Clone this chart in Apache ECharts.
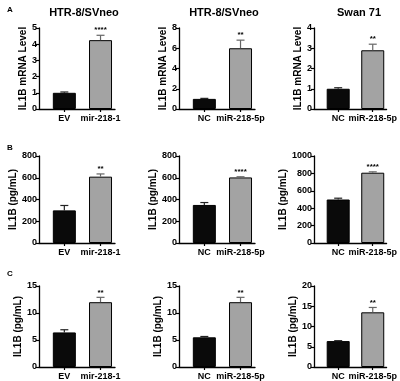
<!DOCTYPE html>
<html>
<head>
<meta charset="utf-8">
<script src="https://cdn.jsdelivr.net/npm/echarts@6/dist/echarts.min.js"></script>
<style>
html, body { margin: 0; padding: 0; background: #fff; }
#chart { width: 400px; height: 381px; }
</style>
</head>
<body>
<div id="chart"></div>
<script>
// panel order: A1 A2 A3, B1 B2 B3, C1 C2 C3
const panelTitles = ["HTR-8/SVneo", "HTR-8/SVneo", "Swan 71"]
const rowLetters = ["A", "B", "C"]
const catsEV = ["EV", "mir-218-1"]
const catsNC = ["NC", "miR-218-5p"]
const yNames = ["IL1B mRNA Level", "IL1B (pg/mL)", "IL1B (pg/mL)"]

const means = [
	[1.0, 4.25], [1.0, 6.0], [1.0, 2.9],
	[300, 610], [350, 603], [500, 808],
	[6.4, 12.0], [5.5, 12.0], [6.4, 13.5]
]
const errors = [
	[0.05, 0.3], [0.05, 0.8], [0.05, 0.3],
	[45, 25], [22, 6], [15, 10],
	[0.5, 0.9], [0.15, 0.9], [0.1, 1.2]
]
const stars = ["****", "**", "**", "**", "****", "****", "**", "**", "**"]
const yMax = [5, 8, 4, 800, 800, 1000, 15, 15, 20]
const yStep = [1, 2, 1, 200, 200, 200, 5, 5, 5]

const chart = echarts.init(document.getElementById("chart"))

const FONT = "Liberation Sans"
const colLeft = [39, 179, 314]
const colWidth = [76, 76, 76]
const rowTop = [28, 156, 286]
const rowHeight = [81, 87, 81]
const nameGaps = [4, 8, 5, 17, 20, 15, 8, 15, 14]

const grids = []
const xAxes = []
const yAxes = []
const series = []
const titles = []

for (let i = 0; i < 9; i++) {
	const r = Math.floor(i / 3)
	const c = i % 3
	const cats = c === 0 ? catsEV : catsNC
	grids.push({ left: colLeft[c], top: rowTop[r], width: colWidth[c], height: rowHeight[r] })
	xAxes.push({
		gridIndex: i,
		type: "value",
		min: 0.3,
		max: 2.4,
		axisLine: { show: true, onZero: false, lineStyle: { color: "#000", width: 1.3 } },
		axisTick: { show: true, customValues: [1, 2], length: 3, lineStyle: { color: "#000", width: 1.2 } },
		axisLabel: {
			customValues: [1, 2],
			formatter: v => cats[Math.round(v) - 1],
			color: "#000", fontFamily: FONT, fontWeight: "bold", fontSize: 9, margin: 5
		},
		splitLine: { show: false }
	})
	yAxes.push({
		gridIndex: i,
		type: "value",
		min: 0,
		max: yMax[i],
		interval: yStep[i],
		name: yNames[r],
		nameLocation: "middle",
		nameGap: nameGaps[i],
		nameTextStyle: { color: "#000", fontFamily: FONT, fontWeight: "bold", fontSize: 10 },
		axisLine: { show: true, lineStyle: { color: "#000", width: 1.3 } },
		axisTick: { show: true, length: 3, lineStyle: { color: "#000", width: 1.2 } },
		axisLabel: {
			formatter: v => String(v),
			color: "#000", fontFamily: FONT, fontWeight: "bold", fontSize: 9, margin: 2
		},
		splitLine: { show: false }
	})
	series.push({
		type: "bar",
		xAxisIndex: i,
		yAxisIndex: i,
		barWidth: 23,
		data: means[i].map((m, k) => ({
			value: [k + 1, m],
			itemStyle: { color: k === 0 ? "#0a0a0a" : "#a3a3a3", borderColor: "#000", borderWidth: 1 }
		}))
	})
	series.push({
		type: "custom",
		xAxisIndex: i,
		yAxisIndex: i,
		z: 5,
		data: means[i].map((m, k) => [k + 1, m, m + errors[i][k], k]),
		renderItem: (params, api) => {
			const base = api.coord([api.value(0), api.value(1)])
			const top = api.coord([api.value(0), api.value(2)])
			const k = api.value(3)
			const col = k === 0 ? "#222" : "#666"
			const children = [
				{ type: "line", shape: { x1: top[0], y1: base[1], x2: top[0], y2: top[1] }, style: { stroke: col, lineWidth: 1.2 } },
				{ type: "line", shape: { x1: top[0] - 4, y1: top[1], x2: top[0] + 4, y2: top[1] }, style: { stroke: col, lineWidth: 1.2 } }
			]
			if (k === 1) {
				children.push({
					type: "text",
					style: {
						text: stars[i], x: top[0], y: top[1] - 1,
						align: "center", verticalAlign: "bottom",
						fill: "#000", font: "bold 8px " + FONT
					}
				})
			}
			return { type: "group", children }
		}
	})
}

for (let c = 0; c < 3; c++) {
	titles.push({
		text: panelTitles[c],
		left: colLeft[c] + colWidth[c] / 2 + 2,
		top: 2,
		textAlign: "center",
		textStyle: { color: "#000", fontFamily: FONT, fontWeight: "bold", fontSize: 11 }
	})
}
const letterTop = [1, 139, 265]
for (let r = 0; r < 3; r++) {
	titles.push({
		text: rowLetters[r],
		left: 2,
		top: letterTop[r],
		textStyle: { color: "#000", fontFamily: FONT, fontWeight: "bold", fontSize: 8 }
	})
}

chart.setOption({
	backgroundColor: "#fff",
	animation: false,
	title: titles,
	grid: grids,
	xAxis: xAxes,
	yAxis: yAxes,
	series: series
})
</script>
</body>
</html>
